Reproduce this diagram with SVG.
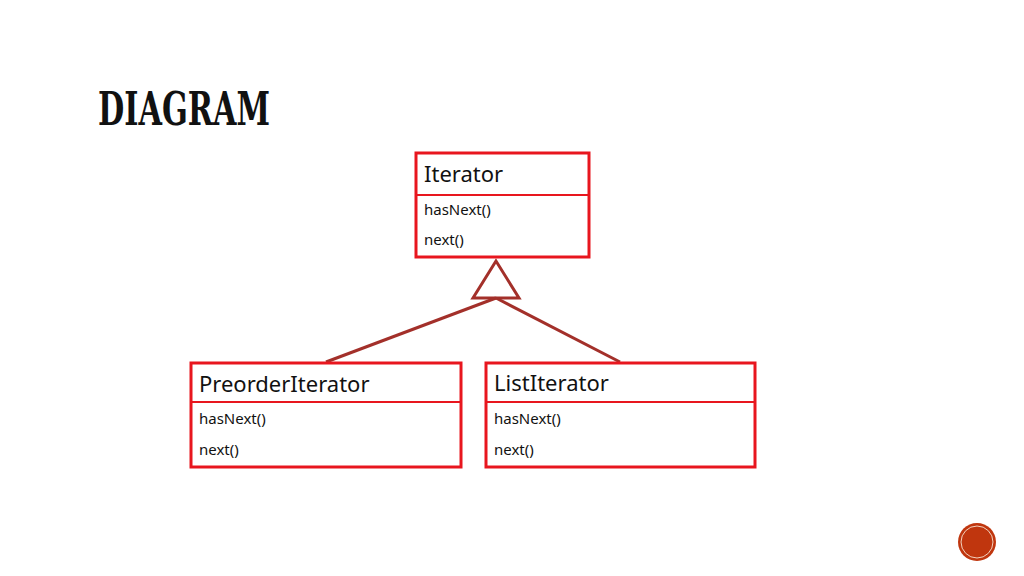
<svg xmlns="http://www.w3.org/2000/svg" width="1024" height="576" viewBox="0 0 1024 576">
<style>
.box{fill:#fff;stroke:#e8161e;stroke-width:3}
.div{stroke:#e8161e;stroke-width:2}
.h{font-family:"Noto Sans","Liberation Sans",sans-serif;font-size:22px;fill:#111}
.m{font-family:"Noto Sans","Liberation Sans",sans-serif;font-size:15px;fill:#111}
.c{stroke:#a3302a;stroke-width:3;fill:none}
</style>
<rect width="1024" height="576" fill="#fff"/>
<text x="98" y="125" font-family="'DejaVu Serif','Liberation Serif',serif" font-weight="bold" font-size="46" fill="#111" textLength="172" lengthAdjust="spacingAndGlyphs">DIAGRAM</text>
<g id="connectors">
<polygon class="c" points="496,261 473,298 519,298"/>
<line class="c" x1="496" y1="298" x2="326" y2="362"/>
<line class="c" x1="496" y1="298" x2="620" y2="362"/>
</g>
<g id="iterator">
<rect class="box" x="416" y="153" width="173" height="104"/>
<line class="div" x1="416" y1="195" x2="589" y2="195"/>
<text class="h" x="424" y="182">Iterator</text>
<text class="m" x="424" y="215">hasNext()</text>
<text class="m" x="424" y="245">next()</text>
</g>
<g id="preorder">
<rect class="box" x="191" y="363" width="270" height="104"/>
<line class="div" x1="191" y1="402" x2="461" y2="402"/>
<text class="h" x="199" y="392">PreorderIterator</text>
<text class="m" x="199" y="424">hasNext()</text>
<text class="m" x="199" y="455">next()</text>
</g>
<g id="listiterator">
<rect class="box" x="486" y="363" width="269" height="104"/>
<line class="div" x1="486" y1="402" x2="755" y2="402"/>
<text class="h" x="494" y="391">ListIterator</text>
<text class="m" x="494" y="424">hasNext()</text>
<text class="m" x="494" y="455">next()</text>
</g>
<circle cx="977" cy="542" r="19" fill="#c0360e"/>
<circle cx="977" cy="542" r="16" fill="none" stroke="#f3d3c0" stroke-width="1"/>
</svg>
